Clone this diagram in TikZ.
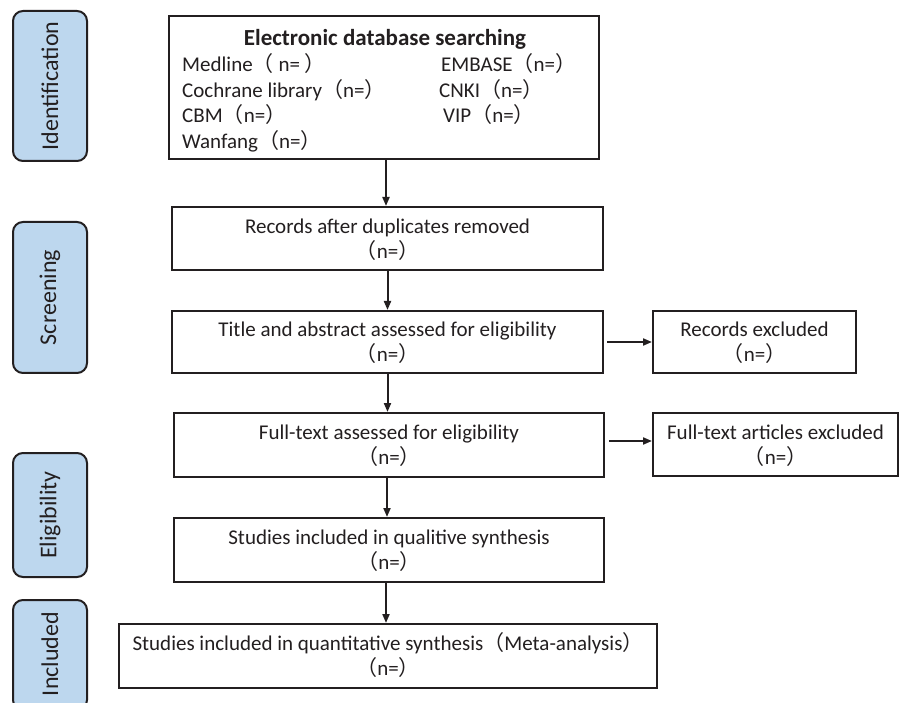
\documentclass[tikz,border=0pt]{standalone}
\usepackage{fontspec}
\setmainfont{Carlito}
\newfontfamily\cjkfont{Noto Sans CJK SC}
\usetikzlibrary{arrows.meta}
\newcommand{\LP}{\smash{\cjkfont （}}
\newcommand{\RP}{\smash{\cjkfont ）}}
\definecolor{lineC}{HTML}{231F20}
\definecolor{textC}{HTML}{231F20}
\definecolor{phaseC}{HTML}{BDD7EE}
\begin{document}
\begin{tikzpicture}[x=1pt,y=-1pt,
  every node/.style={text=textC},
  box/.style={draw=lineC,line width=2pt,fill=white,inner sep=0pt,align=center,font=\fontsize{21}{25}\selectfont},
  phase/.style={draw=lineC,line width=2pt,fill=phaseC,rounded corners=10pt,inner sep=0pt,minimum width=74pt},
  phasetext/.style={rotate=90,font=\fontsize{24}{28}\selectfont,inner sep=0pt},
  item/.style={anchor=base west,inner sep=0pt,font=\fontsize{21}{25}\selectfont},
  arr/.style={draw=lineC,line width=2pt,-{Triangle[length=9pt,width=7pt]}}]
\useasboundingbox (0,0) rectangle (900,703);
\clip (0,0) rectangle (900,703);
\fill[white] (0,0) rectangle (900,703);

% phase labels
\node[phase,minimum height=150pt] (ident) at (50,86) {};
\node[phasetext] (identT) at (ident.center) {Identification};
\node[phase,minimum height=151pt] (screen) at (50,297.5) {};
\node[phasetext] (screenT) at (screen.center) {Screening};
\node[phase,minimum height=124pt] (elig) at (50,515) {};
\node[phasetext] (eligT) at (elig.center) {Eligibility};
\node[phase,minimum height=110pt] (incl) at (50,655) {};
\node[phasetext] (inclT) at (50,654) {Included};

% top box
\node[box,minimum width=430pt,minimum height=143pt] (top) at (384,87.5) {};
\node[anchor=base,inner sep=0pt,font=\fontsize{23}{27}\selectfont\bfseries] (head) at (385,46) {Electronic database searching};
\node[item] (medline) at (182,72) {Medline\LP\ n=\ \RP};
\node[item] (cochrane) at (182,98) {Cochrane library\LP n=\RP};
\node[item] (cbm) at (182,123) {CBM\LP n=\RP};
\node[item] (wanfang) at (182,149) {Wanfang\LP n=\RP};
\node[item] (embase) at (441,72) {EMBASE\LP n=\RP};
\node[item] (cnki) at (439,98) {CNKI\LP n=\RP};
\node[item] (vip) at (443,123) {VIP\LP n=\RP};

% flow boxes
\node[box,minimum width=431pt,minimum height=63pt] (rec) at (387.5,238.5) {Records after duplicates removed\\\LP n=\RP};
\node[box,minimum width=431pt,minimum height=62pt] (title) at (387.5,342) {Title and abstract assessed for eligibility\\\LP n=\RP};
\node[box,minimum width=203pt,minimum height=62pt] (excl1) at (754.5,342) {Records excluded\\\LP n=\RP};
\node[box,minimum width=430pt,minimum height=64pt] (full) at (389,445) {Full-text assessed for eligibility\\\LP n=\RP};
\node[box,minimum width=245pt,minimum height=63pt] (excl2) at (775.5,444.5) {Full-text articles excluded\\\LP n=\RP};
\node[box,minimum width=430pt,minimum height=64pt] (qual) at (389,550) {Studies included in qualitive synthesis\\\LP n=\RP};
\node[box,minimum width=538pt,minimum height=64pt] (quant) at (388,656) {Studies included in quantitative synthesis\LP Meta-analysis\RP\\\LP n=\RP};

% arrows
\draw[arr] (top.south -| 386,0) -- (rec.north -| 386,0);
\draw[arr] (rec.south) -- (title.north);
\draw[arr] (title.south) -- (full.north -| title.south);
\draw[arr] (full.south -| 387,0) -- (qual.north -| 387,0);
\draw[arr] (qual.south -| 386,0) -- (quant.north -| 386,0);
\draw[arr,shorten <=3pt] (title.east) -- (excl1.west);
\draw[arr,shorten <=4pt] ([yshift=4pt]full.east) -- ([yshift=4pt]full.east -| excl2.west);
\end{tikzpicture}
\end{document}
